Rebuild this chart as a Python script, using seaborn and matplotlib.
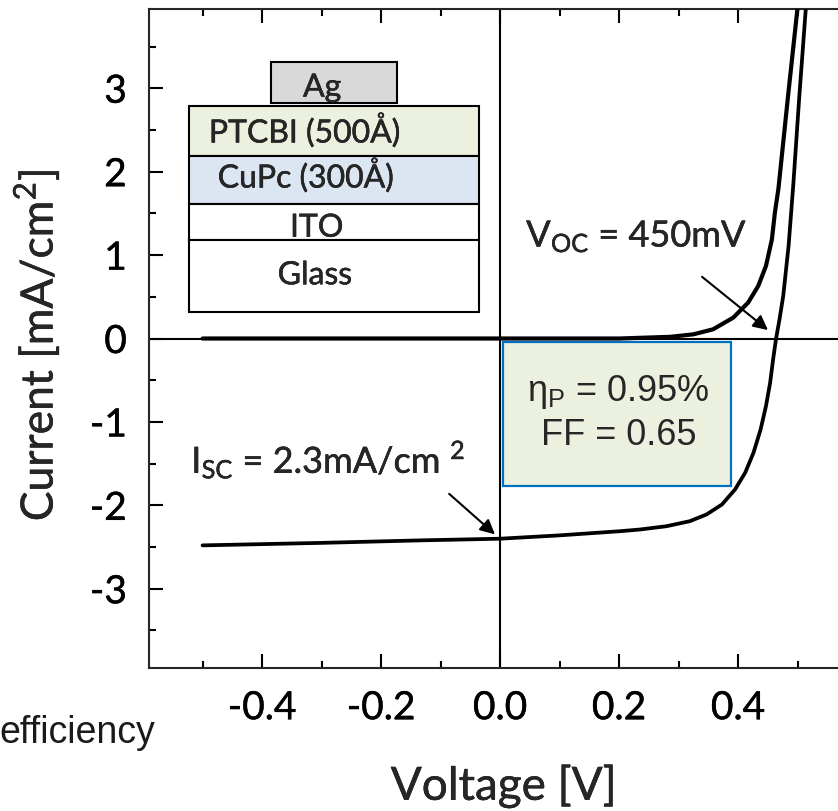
import numpy as np
import pandas as pd
import seaborn as sns
import matplotlib.pyplot as plt
import matplotlib.patheffects as pe
from matplotlib.patches import Rectangle
from matplotlib.ticker import MultipleLocator

# J-V data (voltage in V, current in mA/cm2)
dark_v = [-0.5, -0.2, 0.0, 0.2, 0.286, 0.325, 0.358, 0.392, 0.417, 0.434,
          0.447, 0.457, 0.462, 0.468, 0.476, 0.484, 0.492, 0.500]
dark_j = [0.0, 0.0, 0.0, 0.0, 0.02, 0.05, 0.11, 0.25, 0.43, 0.63,
          0.87, 1.19, 1.51, 1.80, 2.35, 2.90, 3.43, 3.96]

light_v = [-0.5, -0.3, -0.134, 0.0, 0.1, 0.202, 0.235, 0.280, 0.319, 0.347,
           0.373, 0.395, 0.412, 0.426, 0.438, 0.447, 0.454, 0.459, 0.464, 0.470,
           0.476, 0.485, 0.493, 0.503, 0.514]
light_j = [-2.48, -2.45, -2.42, -2.40, -2.36, -2.31, -2.29, -2.25, -2.19, -2.11,
           -1.99, -1.81, -1.61, -1.37, -1.09, -0.81, -0.53, -0.25, 0.0, 0.24,
           0.51, 1.11, 1.85, 2.90, 3.96]

# max power point rectangle corner
v_mp = 0.388
j_mp = -1.77

# device stack schematic (name, fill colour)
layers = ["PTCBI (500Å)", "CuPc (300Å)", "ITO", "Glass"]
layer_colors = ["#ebf1de", "#dce6f2", "white", "white"]

df_dark = pd.DataFrame({"V": dark_v, "J": dark_j})
df_light = pd.DataFrame({"V": light_v, "J": light_j})

sns.set_theme(style="ticks")
plt.rcParams["font.family"] = ["Lato", "DejaVu Sans"]
plt.rcParams["mathtext.fontset"] = "custom"
plt.rcParams["mathtext.rm"] = "Lato"
plt.rcParams["mathtext.sf"] = "Liberation Sans"
plt.rcParams["axes.linewidth"] = 1.5

# slightly heavier strokes for the Calibri-like text
bold = [pe.withStroke(linewidth=0.3, foreground="black")]

fig = plt.figure(figsize=(8.38, 8.12), dpi=100)
ax = fig.add_axes([149 / 838, 143 / 812, 708 / 838, 659 / 812])

ax.axhline(0, color="black", lw=1.5, zorder=1)
ax.axvline(0, color="black", lw=1.5, zorder=1)

sns.lineplot(data=df_dark, x="V", y="J", color="black", lw=3.0,
             estimator=None, ax=ax, zorder=3)
sns.lineplot(data=df_light, x="V", y="J", color="black", lw=2.7,
             estimator=None, ax=ax, zorder=3)

ax.set_xlim(-0.59, 0.6)
ax.set_ylim(-3.95, 3.95)
ax.xaxis.set_minor_locator(MultipleLocator(0.1))
ax.yaxis.set_minor_locator(MultipleLocator(0.5))
ax.set_xticks([-0.4, -0.2, 0.0, 0.2, 0.4])
ax.set_xticklabels(["-0.4", "-0.2", "0.0", "0.2", "0.4"])
ax.set_yticks([-3, -2, -1, 0, 1, 2, 3])
ax.set_yticklabels(["-3", "-2", "-1", "0", "1", "2", "3"])
ax.tick_params(which="both", direction="in", top=True, width=1.5, colors="black")
ax.tick_params(which="major", length=10)
ax.tick_params(which="minor", length=5)
ax.tick_params(axis="x", labelsize=28, pad=16)
ax.tick_params(axis="y", labelsize=28, pad=16)
for lab in ax.get_xticklabels() + ax.get_yticklabels():
    lab.set_path_effects(bold)

ax.set_xlabel("Voltage [V]", fontsize=33, path_effects=bold)
ax.set_ylabel("Current [mA/cm$^2$]", fontsize=32, path_effects=bold)
ax.xaxis.set_label_coords(0.501, -0.145)
ax.yaxis.set_label_coords(-0.125, 0.49)

# device stack inset
ax.add_patch(Rectangle((-0.385, 2.82), 0.212, 0.49, facecolor="#d9d9d9",
                       edgecolor="black", lw=1.5, zorder=4))
ax.text(-0.299, 2.90, "Ag", fontsize=23, ha="center", va="baseline", zorder=5,
        path_effects=bold)
tops = [2.79, 2.19, 1.61, 1.18]
bottoms = [2.19, 1.61, 1.18, 0.32]
label_x = [-0.328, -0.326, -0.308, -0.311]
label_y = [2.35, 1.81, 1.22, 0.65]
for name, col, t, b, lx, ly in zip(layers, layer_colors, tops, bottoms, label_x, label_y):
    ax.add_patch(Rectangle((-0.523, b), 0.488, t - b, facecolor=col,
                           edgecolor="black", lw=1.5, zorder=4))
    ax.text(lx, ly, name, fontsize=23, ha="center", va="baseline", zorder=5,
            path_effects=bold)

# efficiency box
ax.add_patch(Rectangle((0.005, -0.04), v_mp - 0.005, j_mp + 0.04,
                       facecolor="#ebf1de", edgecolor="#0070c0", lw=1.6, zorder=2))
ax.text(0.198, -0.74, r"$\mathsf{\eta_P}$ = 0.95%", fontsize=26,
        family="Liberation Sans", ha="center", va="baseline", zorder=5)
ax.text(0.200, -1.27, "FF = 0.65", fontsize=26, family="Liberation Sans",
        ha="center", va="baseline", zorder=5)

ax.text(0.044, 1.10, r"$\mathrm{V_{OC}}$ = 450mV", fontsize=26,
        ha="left", va="baseline", zorder=5, path_effects=bold)
ax.annotate("", xy=(0.454, 0.08), xytext=(0.336, 0.76),
            arrowprops=dict(arrowstyle="-|>", color="black", lw=1.5,
                            mutation_scale=22), zorder=5)

ax.text(-0.519, -1.61, r"$\mathrm{I_{SC}}$ = 2.3mA/cm $^{\mathrm{2}}$", fontsize=26,
        ha="left", va="baseline", zorder=5, path_effects=bold)
ax.annotate("", xy=(-0.005, -2.37), xytext=(-0.089, -1.84),
            arrowprops=dict(arrowstyle="-|>", color="black", lw=1.5,
                            mutation_scale=22), zorder=5)

fig.text(155 / 838, (812 - 743) / 812, "efficiency", fontsize=27,
         family="Liberation Sans", color="#1a1a1a", ha="right", va="baseline")

fig.savefig("out.png", dpi=100)
